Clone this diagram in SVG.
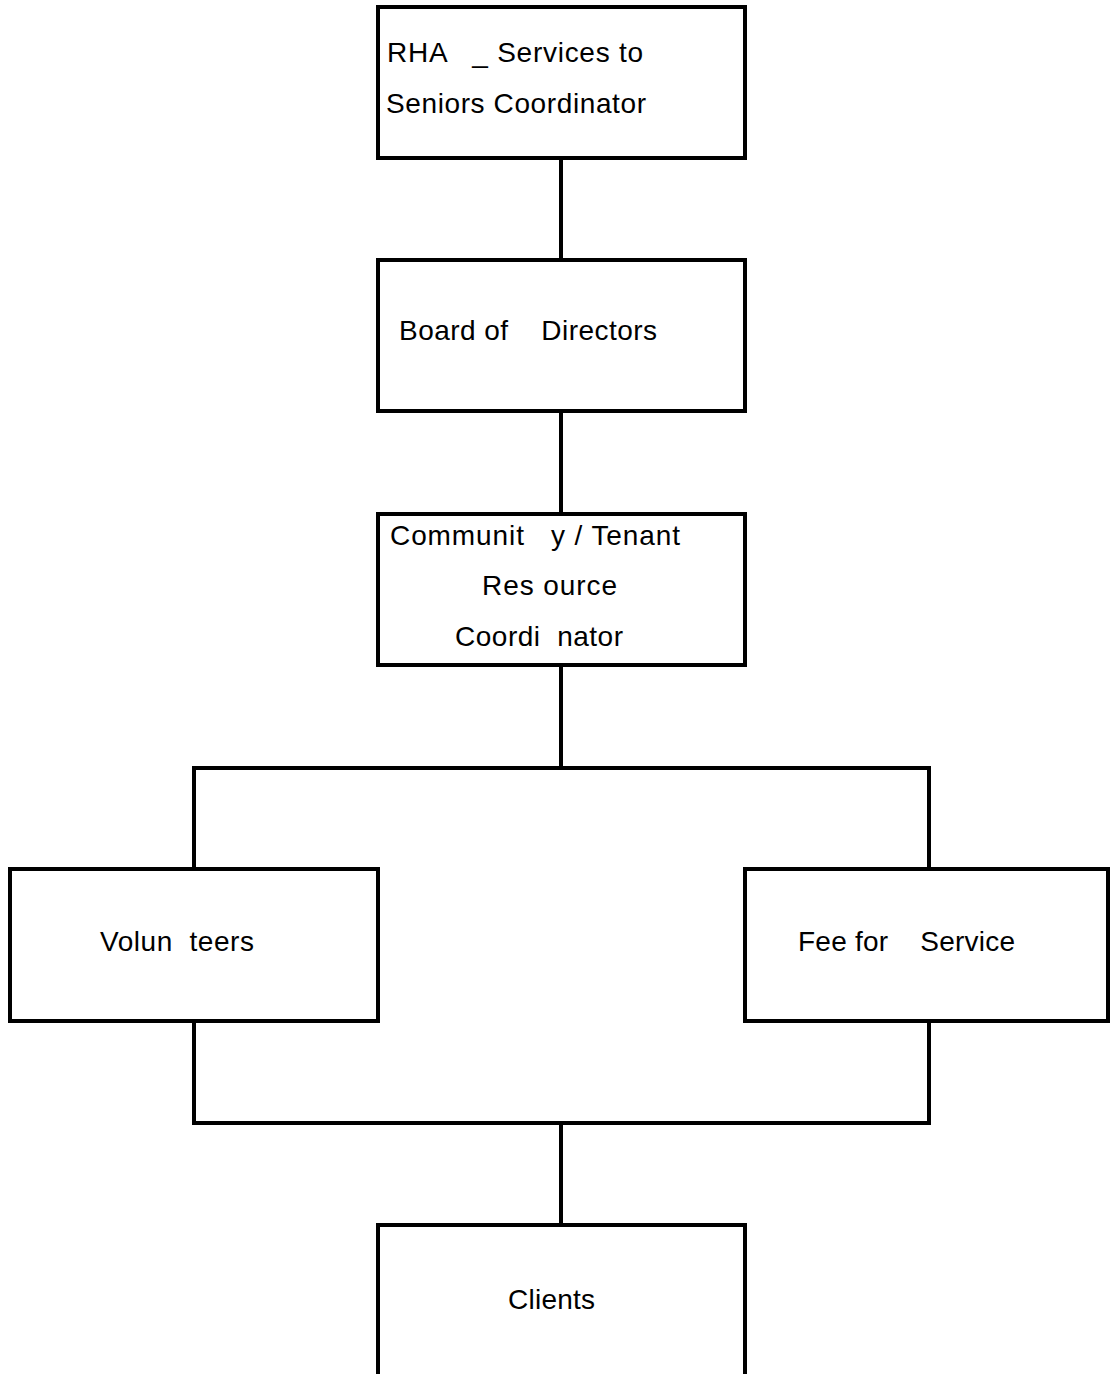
<svg xmlns="http://www.w3.org/2000/svg" width="1110" height="1374" viewBox="0 0 1110 1374">
<style>
.box{fill:#fff;stroke:#000;stroke-width:4}
.ln{stroke:#000;stroke-width:4;fill:none;stroke-linecap:square}
text{font-family:"Liberation Sans",Arial,sans-serif;font-size:28px;fill:#000;white-space:pre}
</style>
<rect width="1110" height="1374" fill="#fff"/>
<g id="connectors">
<line class="ln" x1="561" y1="158" x2="561" y2="260"/>
<line class="ln" x1="561" y1="411" x2="561" y2="514"/>
<line class="ln" x1="561" y1="665" x2="561" y2="768"/>
<polyline class="ln" points="194,869 194,768 929,768 929,869"/>
<polyline class="ln" points="194,1021 194,1123 929,1123 929,1021"/>
<line class="ln" x1="561" y1="1123" x2="561" y2="1225"/>
</g>
<g id="rha">
<rect class="box" x="378" y="7" width="367" height="151"/>
<text x="387" y="62" textLength="256" lengthAdjust="spacing" xml:space="preserve">RHA   _ Services to</text>
<text x="386" y="113" textLength="260" lengthAdjust="spacing">Seniors Coordinator</text>
</g>
<g id="board">
<rect class="box" x="378" y="260" width="367" height="151"/>
<text x="399" y="340" textLength="258" lengthAdjust="spacing" xml:space="preserve">Board of    Directors</text>
</g>
<g id="community">
<rect class="box" x="378" y="514" width="367" height="151"/>
<text x="390" y="545" textLength="290" lengthAdjust="spacing" xml:space="preserve">Communit   y / Tenant</text>
<text x="482" y="595" textLength="135" lengthAdjust="spacing">Res ource</text>
<text x="455" y="646" textLength="168" lengthAdjust="spacing" xml:space="preserve">Coordi  nator</text>
</g>
<g id="volunteers">
<rect class="box" x="10" y="869" width="368" height="152"/>
<text x="100" y="951" textLength="154" lengthAdjust="spacing" xml:space="preserve">Volun  teers</text>
</g>
<g id="fee">
<rect class="box" x="745" y="869" width="363" height="152"/>
<text x="798" y="951" textLength="217" lengthAdjust="spacing" xml:space="preserve">Fee for    Service</text>
</g>
<g id="clients">
<path class="ln" d="M378,1380 V1225 H745 V1380"/>
<text x="508" y="1309" textLength="87" lengthAdjust="spacing">Clients</text>
</g>
</svg>
